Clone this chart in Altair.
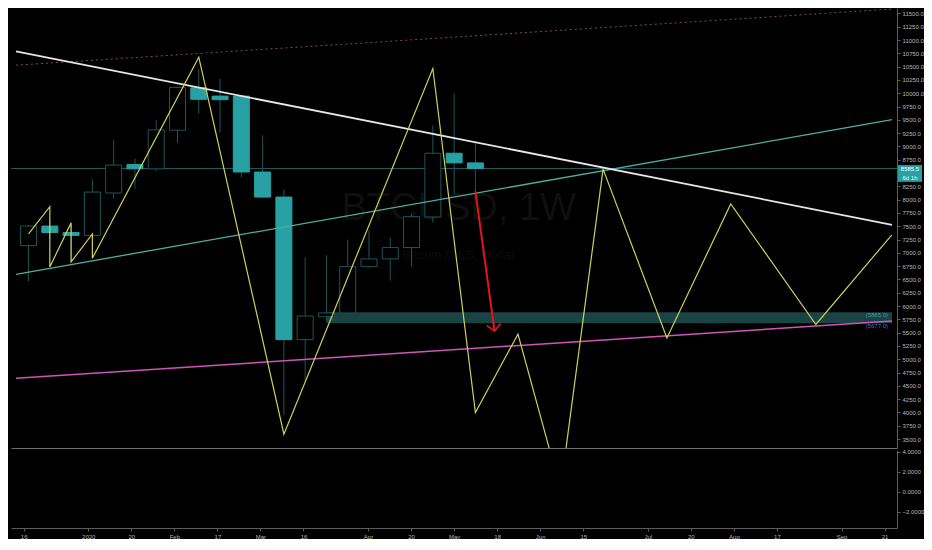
import altair as alt
import pandas as pd

# ---- data (BTC, weekly) ----
weeks = ["2019-12-16", "2019-12-23", "2019-12-30", "2020-01-06", "2020-01-13",
         "2020-01-20", "2020-01-27", "2020-02-03", "2020-02-10", "2020-02-17",
         "2020-02-24", "2020-03-02", "2020-03-09", "2020-03-16", "2020-03-23",
         "2020-03-30", "2020-04-06", "2020-04-13", "2020-04-20", "2020-04-27",
         "2020-05-04", "2020-05-11"]
opens = [7136, 7504, 7383, 7328, 8125, 8660, 8580, 9306, 10103, 9947, 9947,
         8520, 8049, 5369, 5800, 5871, 6741, 6887, 7100, 7675, 8873, 8691]
highs = [7520, 7620, 7540, 8382, 9127, 8774, 9500, 10120, 10455, 10274, 9960,
         9209, 8190, 6918, 6954, 7250, 7432, 7281, 7735, 9396, 10002, 9077]
lows = [6470, 7260, 6860, 7310, 8017, 8199, 8540, 9064, 9621, 9258, 8418,
        8030, 3950, 4600, 5720, 5860, 6720, 6476, 6737, 7571, 8100, 8133]
closes = [7504, 7383, 7328, 8143, 8650, 8580, 9312, 10111, 9886, 9880, 8520,
          8049, 5369, 5812, 5871, 6741, 6887, 7100, 7680, 8873, 8691, 8585.5]
last_price = 8585.5
countdown = "6d 1h"

# projected zigzag path (yellow)
zig_dates = ["2019-12-16", "2019-12-23", "2019-12-23", "2019-12-30", "2019-12-30",
             "2020-01-06", "2020-01-06", "2020-02-10", "2020-03-09", "2020-04-27",
             "2020-05-11", "2020-05-25", "2020-06-08", "2020-06-22", "2020-07-13",
             "2020-08-03", "2020-08-31", "2020-09-25"]
zig_prices = [7359, 7867, 6736, 7564, 6829, 7355, 6900, 10678, 3591, 10466,
              3998, 5472, 2550, 8574, 5400, 7921, 5654, 7340]

# trend lines, from left edge to right edge of the pane
edge_dates = ["2019-12-11T21:00:00", "2020-09-25T01:00:00"]
resistance = [10787, 7528]
rising_support = [6597, 9503]
pink_support = [4642, 5717]
upper_channel = [10528, 11583]

# support zone
zone_start = "2020-03-23"
zone_top = 5885.0
zone_bottom = 5677.0

# red arrow
arrow_dates = ["2020-05-11T00:00:00", "2020-05-17T07:00:00"]
arrow_prices = [8157, 5527]

# axes
price_ticks = [v for v in range(3500, 11750, 250) if v != 8500]
osc_ticks = [-2, 0, 2, 4]
x_tick_dates = ["2019-12-16", "2020-01-06", "2020-01-20", "2020-02-03", "2020-02-17",
                "2020-03-02", "2020-03-16", "2020-04-06", "2020-04-20", "2020-05-04",
                "2020-05-18", "2020-06-01", "2020-06-15", "2020-07-06", "2020-07-20",
                "2020-08-03", "2020-08-17", "2020-09-07", "2020-09-21"]
price_range = [3332, 11603]
osc_range = [-3.62, 4.19]

# ---- style ----
W, H_PRICE, H_OSC = 886, 440, 78
TEAL = "#27a1a3"
TEAL_DARK = "#1f5656"
FONT = "Liberation Sans"


def iso(d):
    return pd.Timestamp(d).strftime("%Y-%m-%dT%H:%M:%SZ")


def ms(d):
    return int(pd.Timestamp(d).value // 10**6)


x_scale = alt.Scale(type="utc", domain=[ms(d) for d in edge_dates])
y_scale = alt.Scale(domain=price_range, nice=False, zero=False)

x_hidden = alt.Axis(labels=False, ticks=False, domain=True, title=None,
                    domainColor="#6c6c6c", grid=False)
y_axis = alt.Axis(orient="right", values=price_ticks, format=".1f", title=None,
                  labelOverlap=False, grid=False)


def X(field):
    return alt.X(field, type="temporal", scale=x_scale, axis=x_hidden)


def Y(field):
    return alt.Y(field, type="quantitative", scale=y_scale, axis=y_axis)


candles = pd.DataFrame({
    "date": [iso(w) for w in weeks],
    "open": opens, "high": highs, "low": lows, "close": closes,
})

is_up = "datum.close >= datum.open"
wicks = alt.Chart(candles).mark_rule(color=TEAL_DARK, strokeWidth=1).encode(
    x=X("date"), y=Y("low"), y2="high")
bodies = alt.Chart(candles).mark_bar(size=16, strokeWidth=1).encode(
    x=X("date"), y=Y("open"), y2="close",
    fill=alt.condition(is_up, alt.value("#000000"), alt.value(TEAL)),
    stroke=alt.condition(is_up, alt.value(TEAL_DARK), alt.value(TEAL)),
)

zone_df = pd.DataFrame({"start": [iso(zone_start)], "end": [iso(edge_dates[1])],
                        "top": [zone_top], "bottom": [zone_bottom]})
zone = alt.Chart(zone_df).mark_rect(fill="#1b4747", opacity=0.95).encode(
    x=X("start"), x2="end", y=Y("top"), y2="bottom")

zone_lbl_df = pd.DataFrame({
    "date": [iso(edge_dates[1])] * 2,
    "price": [zone_top, zone_bottom],
    "text": [f"({zone_top:.1f})", f"({zone_bottom:.1f})"],
    "col": ["#4b9c9e", "#4a78b4"],
})
zone_labels = alt.Chart(zone_lbl_df).mark_text(
    align="right", baseline="middle", dx=-4, dy=3, font=FONT, fontSize=6
).encode(x=X("date"), y=Y("price"), text="text:N",
         color=alt.Color("col:N", scale=None))


def trend(prices, color, width, dash=None, opacity=1.0):
    df = pd.DataFrame({"date": [iso(d) for d in edge_dates], "price": prices})
    kw = dict(color=color, strokeWidth=width, clip=True, opacity=opacity)
    if dash:
        kw["strokeDash"] = dash
    return alt.Chart(df).mark_line(**kw).encode(x=X("date"), y=Y("price"))


line_dotted = trend(upper_channel, "#7d4a5c", 1, dash=[2, 3])
line_white = trend(resistance, "#e6e6e6", 1.8)
line_teal = trend(rising_support, "#4fae9e", 1.3)
line_pink = trend(pink_support, "#cf55b8", 1.5)

price_df = pd.DataFrame({"price": [last_price]})
price_line = alt.Chart(price_df).mark_rule(color="#1f5c5c", strokeWidth=1).encode(
    y=Y("price"))

zig_df = pd.DataFrame({"date": [iso(d) for d in zig_dates], "price": zig_prices,
                       "i": range(len(zig_dates))})
zigzag = alt.Chart(zig_df).mark_line(color="#cfd05a", strokeWidth=1.2, clip=True).encode(
    x=X("date"), y=Y("price"), order="i:Q")

arrow_df = pd.DataFrame({"date": [iso(d) for d in arrow_dates], "price": arrow_prices})
arrow_line = alt.Chart(arrow_df).mark_line(color="#e3161c", strokeWidth=2).encode(
    x=X("date"), y=Y("price"))
arrow_head = alt.Chart(arrow_df.tail(1)).mark_point(
    shape="M-1,-1L0,0L1,-1", filled=False, color="#e3161c", strokeWidth=1.6,
    size=190, angle=352, opacity=1
).encode(x=X("date"), y=Y("price"))

wm_df = pd.DataFrame({"date": [iso("2020-05-05T12:00:00")] * 2,
                      "price": [7830, 6960],
                      "text": ["BTCUSD, 1W", "Bitcoin / U.S. Dollar"],
                      "size": [38, 13],
                      "col": ["#0f0f0f", "#0c0c0c"]})
watermark = alt.Chart(wm_df).mark_text(
    font=FONT, baseline="middle", align="center"
).encode(x=X("date"), y=Y("price"), text="text:N",
         size=alt.Size("size:Q", scale=None),
         color=alt.Color("col:N", scale=None))

tag_df = pd.DataFrame({"top": [8650], "bottom": [8335], "p1": [8578], "p2": [8410],
                       "t1": [f"{last_price:.1f}"], "t2": [countdown]})
tag_box = alt.Chart(tag_df).mark_rect(fill=TEAL, clip=False).encode(
    x=alt.value(W + 1), x2=alt.value(W + 25), y=Y("top"), y2="bottom")
tag_t1 = alt.Chart(tag_df).mark_text(
    color="#ffffff", font=FONT, fontSize=6, clip=False).encode(
    x=alt.value(W + 13), y=Y("p1"), text="t1:N")
tag_t2 = alt.Chart(tag_df).mark_text(
    color="#e8ffff", font=FONT, fontSize=6, clip=False).encode(
    x=alt.value(W + 13), y=Y("p2"), text="t2:N")

price_chart = alt.layer(
    watermark, zone, line_dotted, price_line, wicks, bodies, line_teal, line_pink,
    line_white, zigzag, arrow_line, arrow_head, zone_labels,
    tag_box, tag_t1, tag_t2,
).properties(width=W, height=H_PRICE)

# empty indicator pane underneath
osc_df = pd.DataFrame({"date": [iso(d) for d in edge_dates], "v": [0, 0]})
x_labels = ("utcdate(datum.value) <= 7 ? (utcmonth(datum.value) == 0 ? "
            "utcFormat(datum.value, '%Y') : utcFormat(datum.value, '%b')) : "
            "utcFormat(datum.value, '%-d')")
osc_chart = alt.Chart(osc_df).mark_point(opacity=0).encode(
    x=alt.X("date:T", scale=x_scale,
            axis=alt.Axis(values=[ms(d) for d in x_tick_dates], labelExpr=x_labels,
                          title=None, labelOverlap=False, grid=False,
                          domainColor="#5c5c5c")),
    y=alt.Y("v:Q", scale=alt.Scale(domain=osc_range, nice=False, zero=False),
            axis=alt.Axis(orient="right", values=osc_ticks, format=".4f",
                          title=None, labelOverlap=False, grid=False)),
).properties(width=W, height=H_OSC)

chart = alt.vconcat(price_chart, osc_chart, spacing=0).properties(
    background="#000000", padding=0
).configure_view(strokeWidth=0).configure_axis(
    labelFont=FONT, labelFontSize=6, labelColor="#b9b9b9",
    tickColor="#5c5c5c", domainColor="#5c5c5c", tickSize=3, labelPadding=2,
)

chart.save("out.html", embed_options={"renderer": "svg", "actions": False})
